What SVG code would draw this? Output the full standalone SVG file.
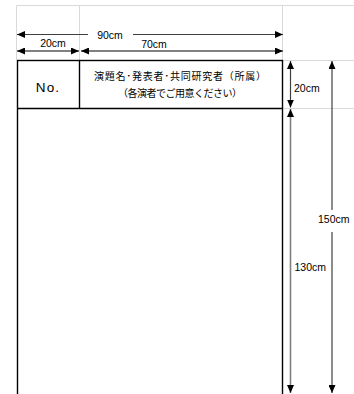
<svg xmlns="http://www.w3.org/2000/svg" width="354" height="394" viewBox="0 0 354 394">
<style>
.grid{stroke:#d9d9d9;stroke-width:1;fill:none}
.frame{stroke:#000;stroke-width:1.4;fill:none}
.dim{stroke:#404040;stroke-width:1.2;fill:none}
.dimg{stroke:#808080;stroke-width:2;fill:none}
.lbl{font-family:"Liberation Sans",Arial,sans-serif;font-size:10.5px;fill:#000}
.jp{font-family:"Noto Sans CJK JP","Noto Sans CJK SC",sans-serif;font-size:10px;fill:#000}
</style>
<defs>
<marker id="ah" markerUnits="userSpaceOnUse" markerWidth="8" markerHeight="7" refX="8" refY="3.5" orient="auto-start-reverse">
<path d="M0,0 L8,3.5 L0,7 z" fill="#000"/>
</marker>
</defs>
<g id="gridlines">
<line class="grid" x1="16.5" y1="5.5" x2="354" y2="5.5"/>
<line class="grid" x1="16.5" y1="5.5" x2="16.5" y2="60"/>
<line class="grid" x1="79.5" y1="5.5" x2="79.5" y2="60"/>
<line class="grid" x1="282.5" y1="5.5" x2="282.5" y2="60"/>
<line class="grid" x1="282" y1="60.5" x2="354" y2="60.5"/>
<line class="grid" x1="282" y1="108.5" x2="354" y2="108.5"/>
</g>
<g id="frame">
<rect class="frame" x="17.5" y="60.5" width="265" height="340"/>
<line class="frame" x1="17.5" y1="108.5" x2="282.5" y2="108.5"/>
<line class="frame" x1="79.5" y1="60.5" x2="79.5" y2="108.5"/>
</g>
<g id="node-no">
<text class="lbl" x="48" y="92" text-anchor="middle" style="font-size:13.5px;letter-spacing:1.2px">No.</text>
</g>
<g id="node-title">
<text class="jp" x="180" y="80" text-anchor="middle" textLength="172" lengthAdjust="spacing">演題名･発表者･共同研究者（所属）</text>
<text class="jp" x="180" y="97" text-anchor="middle" textLength="124" lengthAdjust="spacing">（各演者でご用意ください）</text>
</g>
<g id="connectors">
<line class="dim" x1="17" y1="34.5" x2="88" y2="34.5" marker-start="url(#ah)"/>
<line class="dim" x1="133" y1="34.5" x2="283" y2="34.5" marker-end="url(#ah)"/>
<line class="dimg" x1="17" y1="51" x2="79" y2="51" marker-start="url(#ah)" marker-end="url(#ah)"/>
<line class="dimg" x1="81" y1="51" x2="283" y2="51" marker-start="url(#ah)" marker-end="url(#ah)"/>
<line class="dim" x1="290.5" y1="61" x2="290.5" y2="107.5" marker-start="url(#ah)" marker-end="url(#ah)"/>
<line class="dimg" x1="290.5" y1="109" x2="290.5" y2="393" style="stroke-width:1.6" marker-start="url(#ah)" marker-end="url(#ah)"/>
<line class="dim" x1="332" y1="61" x2="332" y2="210" marker-start="url(#ah)"/>
<line class="dim" x1="332" y1="232" x2="332" y2="393" marker-end="url(#ah)"/>
</g>
<g id="labels">
<text class="lbl" x="110" y="38.5" text-anchor="middle">90cm</text>
<text class="lbl" x="53" y="47" text-anchor="middle">20cm</text>
<text class="lbl" x="154" y="48" text-anchor="middle">70cm</text>
<text class="lbl" x="294" y="92">20cm</text>
<text class="lbl" x="318" y="223">150cm</text>
<text class="lbl" x="294.5" y="271">130cm</text>
</g>
</svg>
